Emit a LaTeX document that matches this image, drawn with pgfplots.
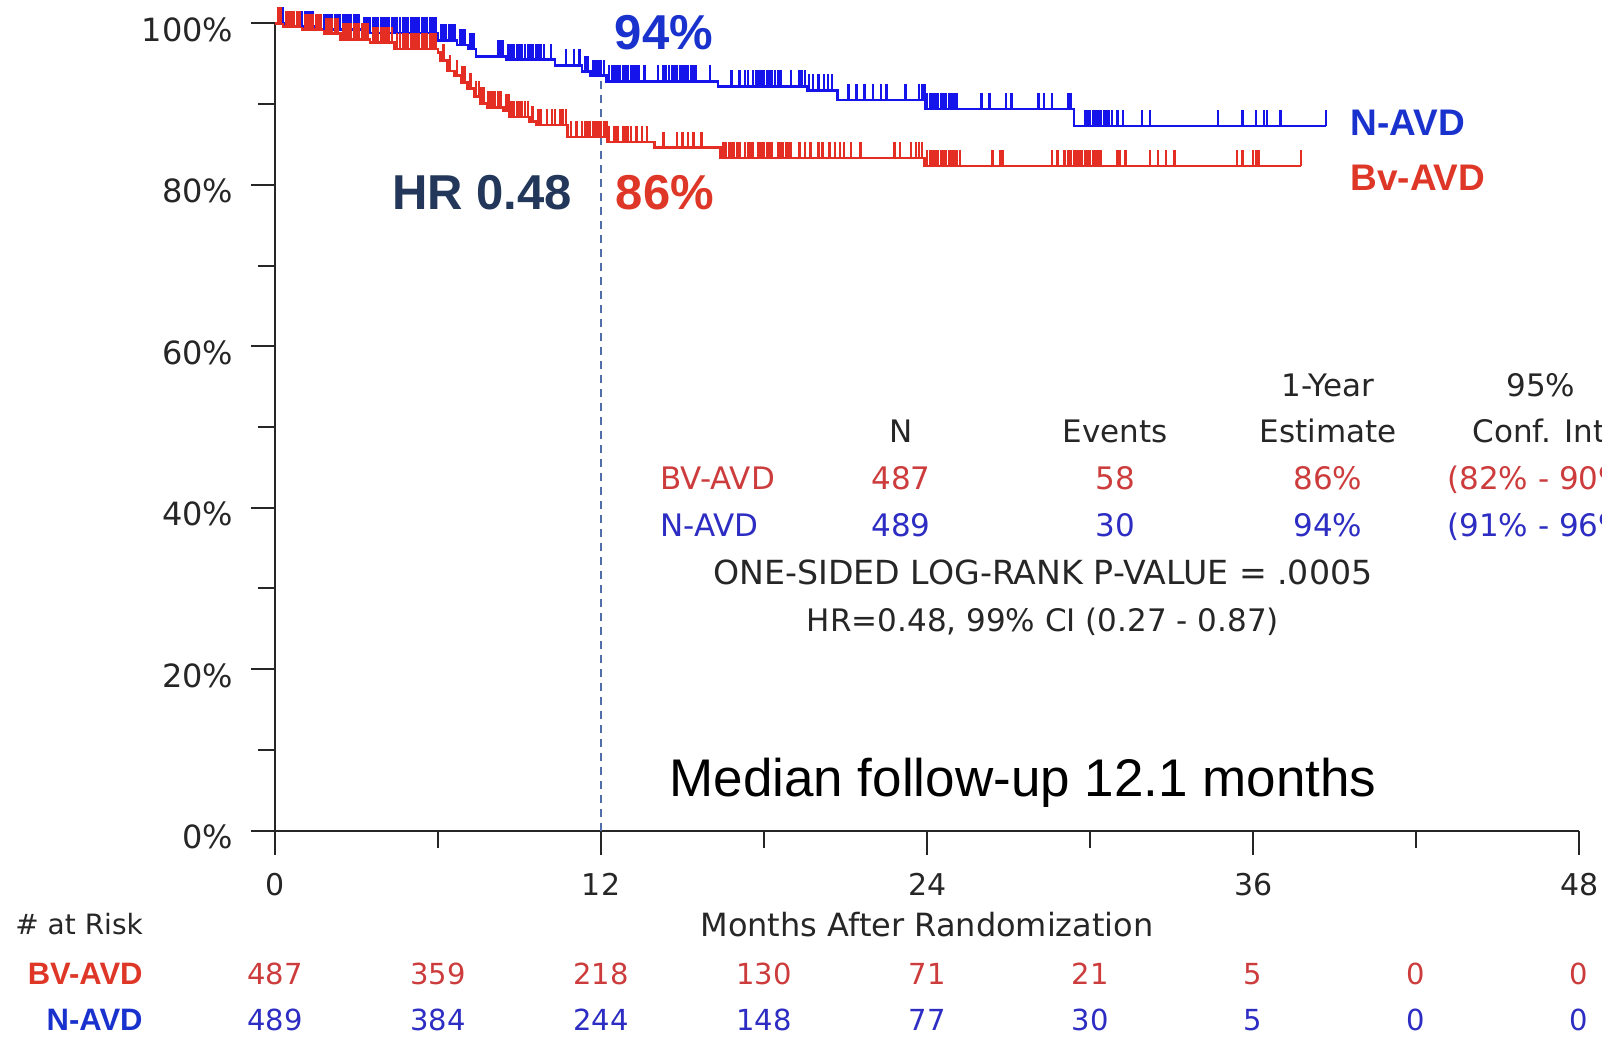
\documentclass[border=0pt]{standalone}
\usepackage{fontspec}
\setmainfont{DejaVu Sans}
\newfontfamily\lib{Liberation Sans}
\usepackage{pgfplots}
\pgfplotsset{compat=1.18}
\definecolor{cblue}{RGB}{20,20,235}
\definecolor{cred}{RGB}{228,45,35}
\definecolor{tblue}{RGB}{25,50,205}
\definecolor{tred}{RGB}{222,55,40}
\definecolor{navy}{RGB}{35,55,90}
\definecolor{rowred}{RGB}{205,60,60}
\definecolor{rowblue}{RGB}{45,45,195}
\definecolor{dashc}{RGB}{80,110,170}
\newcommand{\fs}[1]{\fontsize{#1}{#1}\selectfont}
\pgfdeclareplotmark{cens}{\pgfpathmoveto{\pgfpointorigin}\pgfpathlineto{\pgfpoint{0pt}{2\pgfplotmarksize}}\pgfusepathqstroke}
\begin{document}
\begin{tikzpicture}
\useasboundingbox (0,0) rectangle (801pt,519pt);
\begin{axis}[at={(137.5pt,103.65pt)}, anchor=south west, scale only axis,
  width=652.15pt, height=403.7pt, xmin=0, xmax=48, ymin=0, ymax=100,
  axis x line=bottom, axis y line=left,
  axis line style={-, line width=1pt, black!85},
  every outer x axis line/.append style={-}, every outer y axis line/.append style={-},
  xtick={0,12,24,36,48}, xticklabels={0,12,24,36,48}, minor xtick={6,18,30,42},
  ytick={0,20,40,60,80,100}, yticklabels={0\%,20\%,40\%,60\%,80\%,100\%}, minor ytick={10,30,50,70,90},
  tick align=outside, major tick length=12pt, minor tick length=8.5pt,
  every tick/.style={black!85, line width=1pt},
  xticklabel style={font=\fs{15}, text=black!85, yshift=-5.8pt},
  yticklabel style={font=\fs{16}, text=black!85, xshift=-5.3pt, yshift=-3.2pt},
  clip=false]
% dashed reference line at 12 months
\addplot[dashc, line width=0.8pt, dash pattern=on 4pt off 3pt] coordinates {(12,0) (12,94)};
% N-AVD
\addplot[const plot, cblue, line width=1.3pt] coordinates {
(0,100) (0.4,99.6) (1.5,99.2) (3.2,98.8) (6.0,97.9) (6.7,97.3) (7.1,96.8) (7.4,95.9)
(8.5,95.5) (10.3,94.8) (11.3,94.0) (11.6,93.5) (12.2,92.8) (16.3,92.2) (19.6,91.7)
(20.7,90.5) (23.95,89.4) (29.4,87.3) (38.67,87.3)};
\addplot[only marks, mark=cens, mark size=4pt, cblue, mark options={line width=1.2pt}] coordinates {
(0.1,100) (0.2,100) (0.3,100)
(0.5,99.6) (0.6,99.6) (0.7,99.6) (0.8,99.6) (0.9,99.6) (1.0,99.6) (1.1,99.6) (1.2,99.6) (1.3,99.6) (1.4,99.6)
(1.6,99.2) (1.7,99.2) (1.8,99.2) (1.9,99.2) (2.0,99.2) (2.1,99.2) (2.2,99.2) (2.3,99.2) (2.4,99.2) (2.5,99.2) (2.6,99.2) (2.7,99.2) (2.8,99.2) (2.9,99.2) (3.0,99.2) (3.1,99.2)
(3.3,98.8) (3.4,98.8) (3.5,98.8) (3.6,98.8) (3.7,98.8) (3.8,98.8) (3.9,98.8) (4.0,98.8) (4.1,98.8) (4.2,98.8) (4.3,98.8) (4.4,98.8) (4.5,98.8) (4.6,98.8)
(4.7,98.8) (4.8,98.8) (4.9,98.8) (5.0,98.8) (5.1,98.8) (5.2,98.8) (5.3,98.8) (5.4,98.8) (5.5,98.8) (5.6,98.8) (5.7,98.8) (5.8,98.8) (5.9,98.8)
(6.1,97.9) (6.2,97.9) (6.3,97.9) (6.4,97.9) (6.5,97.9) (6.6,97.9)
(6.8,97.3) (6.9,97.3) (7.0,97.3) (7.2,96.8) (7.3,96.8)
(8.2,95.9) (8.3,95.9) (8.4,95.9)
(8.6,95.5) (8.7,95.5) (8.8,95.5) (8.9,95.5) (9.0,95.5) (9.1,95.5) (9.2,95.5) (9.3,95.5) (9.4,95.5) (9.5,95.5) (9.6,95.5) (9.7,95.5) (9.8,95.5) (9.9,95.5) (10.15,95.5)
(10.7,94.8) (11.0,94.8) (11.2,94.8) (11.4,94.0) (11.5,94.0)
(11.7,93.5) (11.8,93.5) (11.9,93.5) (12.0,93.5) (12.1,93.5)
(12.3,92.8) (12.4,92.8) (12.5,92.8) (12.6,92.8) (12.7,92.8) (12.8,92.8) (12.9,92.8) (13.0,92.8) (13.1,92.8) (13.2,92.8) (13.3,92.8) (13.4,92.8)
(13.6,92.8) (14.1,92.8) (14.3,92.8) (14.4,92.8) (14.5,92.8) (14.6,92.8) (14.7,92.8) (14.8,92.8) (14.9,92.8) (15.0,92.8) (15.1,92.8) (15.2,92.8) (15.3,92.8) (15.4,92.8) (15.5,92.8) (16.0,92.8)
(16.8,92.2) (17.1,92.2) (17.3,92.2) (17.4,92.2) (17.6,92.2) (17.7,92.2) (17.8,92.2) (17.9,92.2) (18.0,92.2) (18.1,92.2) (18.2,92.2) (18.3,92.2) (18.4,92.2) (18.5,92.2) (18.6,92.2) (19.0,92.2) (19.3,92.2) (19.4,92.2) (19.5,92.2)
(19.65,91.7) (19.8,91.7) (20.0,91.7) (20.2,91.7) (20.35,91.7) (20.5,91.7)
(21.1,90.5) (21.4,90.5) (21.7,90.5) (22.0,90.5) (22.3,90.5) (22.5,90.5) (23.2,90.5) (23.7,90.5) (23.8,90.5) (23.9,90.5)
(24.0,89.4) (24.1,89.4) (24.2,89.4) (24.3,89.4) (24.4,89.4) (24.5,89.4) (24.6,89.4) (24.7,89.4) (24.8,89.4) (24.9,89.4) (25.0,89.4) (25.1,89.4)
(26.0,89.4) (26.3,89.4) (26.9,89.4) (27.1,89.4) (28.1,89.4) (28.3,89.4) (28.6,89.4) (29.2,89.4) (29.3,89.4)
(29.8,87.3) (29.9,87.3) (30.0,87.3) (30.1,87.3) (30.2,87.3) (30.3,87.3) (30.4,87.3) (30.5,87.3) (30.6,87.3) (30.7,87.3) (30.8,87.3)
(31.0,87.3) (31.2,87.3) (31.9,87.3) (32.2,87.3) (34.7,87.3) (35.6,87.3) (36.1,87.3) (36.4,87.3) (36.5,87.3) (37.0,87.3) (38.67,87.3)};
% Bv-AVD
\addplot[const plot, cred, line width=1.3pt] coordinates {
(0,100) (0.3,99.6) (1.0,99.2) (1.8,98.7) (2.4,98.0) (3.5,97.6) (4.4,96.8) (6.0,96.4)
(6.1,95.4) (6.35,94.1) (6.6,93.5) (6.84,92.7) (7.08,91.9) (7.33,90.9) (7.57,90.1) (7.8,89.6)
(8.4,89.2) (8.64,88.4) (9.37,87.8) (9.6,87.4) (10.77,85.9) (12.24,85.3) (13.96,84.6)
(16.4,83.3) (23.9,82.3) (37.75,82.3)};
\addplot[only marks, mark=cens, mark size=4pt, cred, mark options={line width=1.2pt}] coordinates {
(0.1,100) (0.2,100)
(0.4,99.6) (0.5,99.6) (0.6,99.6) (0.7,99.6) (0.8,99.6) (0.9,99.6)
(1.1,99.2) (1.2,99.2) (1.3,99.2) (1.4,99.2) (1.5,99.2) (1.6,99.2) (1.7,99.2)
(1.9,98.7) (2.0,98.7) (2.1,98.7) (2.2,98.7) (2.3,98.7)
(2.5,98.0) (2.6,98.0) (2.7,98.0) (2.8,98.0) (2.9,98.0) (3.0,98.0) (3.1,98.0) (3.2,98.0) (3.3,98.0) (3.4,98.0)
(3.6,97.6) (3.7,97.6) (3.8,97.6) (3.9,97.6) (4.0,97.6) (4.1,97.6) (4.2,97.6) (4.3,97.6)
(4.5,96.8) (4.6,96.8) (4.7,96.8) (4.8,96.8) (4.9,96.8) (5.0,96.8) (5.1,96.8) (5.2,96.8) (5.3,96.8) (5.4,96.8) (5.5,96.8) (5.6,96.8) (5.7,96.8) (5.8,96.8) (5.9,96.8)
(6.2,95.4) (6.45,94.1) (6.7,93.5) (6.9,92.7) (7.0,92.7) (7.2,91.9) (7.4,90.9) (7.5,90.9) (7.6,90.1) (7.7,90.1)
(7.85,89.6) (7.9,89.6) (8.0,89.6) (8.1,89.6) (8.2,89.6) (8.3,89.6) (8.5,89.2) (8.6,89.2)
(8.7,88.4) (8.8,88.4) (8.9,88.4) (9.0,88.4) (9.1,88.4) (9.2,88.4) (9.3,88.4) (9.45,87.8) (9.5,87.8)
(9.7,87.4) (9.8,87.4) (10.0,87.4) (10.2,87.4) (10.3,87.4) (10.5,87.4) (10.6,87.4) (10.7,87.4)
(10.9,85.9) (11.1,85.9) (11.3,85.9) (11.4,85.9) (11.5,85.9) (11.6,85.9) (11.7,85.9) (11.8,85.9) (11.9,85.9) (12.0,85.9) (12.1,85.9) (12.2,85.9)
(12.3,85.3) (12.5,85.3) (12.6,85.3) (12.8,85.3) (12.9,85.3) (13.0,85.3) (13.1,85.3) (13.3,85.3) (13.5,85.3) (13.7,85.3)
(14.3,84.6) (14.8,84.6) (15.0,84.6) (15.2,84.6) (15.4,84.6) (15.7,84.6)
(16.5,83.3) (16.6,83.3) (16.7,83.3) (16.8,83.3) (16.9,83.3) (17.0,83.3) (17.1,83.3) (17.3,83.3) (17.4,83.3) (17.5,83.3) (17.6,83.3) (17.8,83.3)
(17.9,83.3) (18.0,83.3) (18.1,83.3) (18.2,83.3) (18.3,83.3) (18.5,83.3) (18.6,83.3) (18.7,83.3) (18.8,83.3) (18.9,83.3) (19.0,83.3) (19.3,83.3)
(19.5,83.3) (19.7,83.3) (20.0,83.3) (20.15,83.3) (20.4,83.3) (20.6,83.3) (20.8,83.3) (20.95,83.3) (21.2,83.3) (21.55,83.3) (22.8,83.3) (23.0,83.3)
(23.4,83.3) (23.6,83.3) (23.7,83.3) (23.8,83.3)
(24.0,82.3) (24.1,82.3) (24.2,82.3) (24.3,82.3) (24.4,82.3) (24.5,82.3) (24.6,82.3) (24.7,82.3) (24.8,82.3) (24.9,82.3) (25.0,82.3) (25.1,82.3) (25.2,82.3)
(26.4,82.3) (26.7,82.3) (26.8,82.3) (28.6,82.3) (28.8,82.3) (29.05,82.3) (29.2,82.3) (29.3,82.3) (29.4,82.3) (29.5,82.3) (29.6,82.3) (29.7,82.3)
(29.8,82.3) (29.9,82.3) (30.0,82.3) (30.1,82.3) (30.2,82.3) (30.3,82.3) (30.4,82.3) (31.0,82.3) (31.1,82.3) (31.3,82.3) (32.2,82.3) (32.5,82.3)
(32.8,82.3) (33.1,82.3) (35.4,82.3) (35.6,82.3) (36.0,82.3) (36.1,82.3) (36.2,82.3) (37.75,82.3)};
\end{axis}
\begin{scope}[x=0.5pt, y=-0.5pt, shift={(0pt,519pt)}, every node/.style={inner sep=0pt}]
% big annotations
\node[anchor=base, font=\lib\bfseries\fs{24.5}, text=tblue] at (664,50) {94\%};
\node[anchor=base, font=\lib\bfseries\fs{24.5}, text=tred] at (665,210) {86\%};
\node[anchor=base, font=\lib\bfseries\fs{24.5}, text=navy] at (482,210) {HR 0.48};
\node[anchor=base west, font=\lib\bfseries\fs{18.5}, text=tblue] at (1350,136) {N-AVD};
\node[anchor=base west, font=\lib\bfseries\fs{18.5}, text=tred] at (1350,191) {Bv-AVD};
\node[anchor=base, font=\lib\fs{26.5}, text=black] at (1023,797) {Median follow-up 12.1 months};
% statistics table
\begin{scope}[every node/.append style={font=\fs{15.5}}]
\node[anchor=base, text=black!85] at (1328,397) {1-Year};
\node[anchor=base, text=black!85] at (1541,397) {95\%};
\node[anchor=base, text=black!85] at (901,443) {N};
\node[anchor=base, text=black!85] at (1115,443) {Events};
\node[anchor=base, text=black!85] at (1328,443) {Estimate};
\node[anchor=base west, text=black!85] at (1472,443) {Conf. Int.};
\node[anchor=base west, text=rowred] at (660,490) {BV-AVD};
\node[anchor=base, text=rowred] at (901,490) {487};
\node[anchor=base, text=rowred] at (1115,490) {58};
\node[anchor=base, text=rowred] at (1328,490) {86\%};
\node[anchor=base west, text=rowred] at (1447,490) {(82\% - 90\%)};
\node[anchor=base west, text=rowblue] at (660,537) {N-AVD};
\node[anchor=base, text=rowblue] at (901,537) {489};
\node[anchor=base, text=rowblue] at (1115,537) {30};
\node[anchor=base, text=rowblue] at (1328,537) {94\%};
\node[anchor=base west, text=rowblue] at (1447,537) {(91\% - 96\%)};
\node[anchor=base, text=black!85, font=\fs{16.6}] at (1043,585) {ONE-SIDED LOG-RANK P-VALUE = .0005};
\node[anchor=base, text=black!85] at (1043,632) {HR=0.48, 99\% CI (0.27 - 0.87)};
\end{scope}
% axis title and numbers at risk
\node[anchor=base, font=\fs{16}, text=black!85] at (927,937) {Months After Randomization};
\node[anchor=base west, font=\fs{14}, text=black!85] at (15,935) {\# at Risk};
\node[anchor=base east, font=\lib\bfseries\fs{15.5}, text=tred] at (143,985) {BV-AVD};
\node[anchor=base east, font=\lib\bfseries\fs{15.5}, text=tblue] at (143,1031) {N-AVD};
\begin{scope}[every node/.append style={font=\fs{14.5}, anchor=base}]
\node[text=rowred] at (275,985) {487};
\node[text=rowred] at (438,985) {359};
\node[text=rowred] at (601,985) {218};
\node[text=rowred] at (764,985) {130};
\node[text=rowred] at (927,985) {71};
\node[text=rowred] at (1090,985) {21};
\node[text=rowred] at (1253,985) {5};
\node[text=rowred] at (1416,985) {0};
\node[text=rowred] at (1579,985) {0};
\node[text=rowblue] at (275,1031) {489};
\node[text=rowblue] at (438,1031) {384};
\node[text=rowblue] at (601,1031) {244};
\node[text=rowblue] at (764,1031) {148};
\node[text=rowblue] at (927,1031) {77};
\node[text=rowblue] at (1090,1031) {30};
\node[text=rowblue] at (1253,1031) {5};
\node[text=rowblue] at (1416,1031) {0};
\node[text=rowblue] at (1579,1031) {0};
\end{scope}
\end{scope}
\end{tikzpicture}
\end{document}
